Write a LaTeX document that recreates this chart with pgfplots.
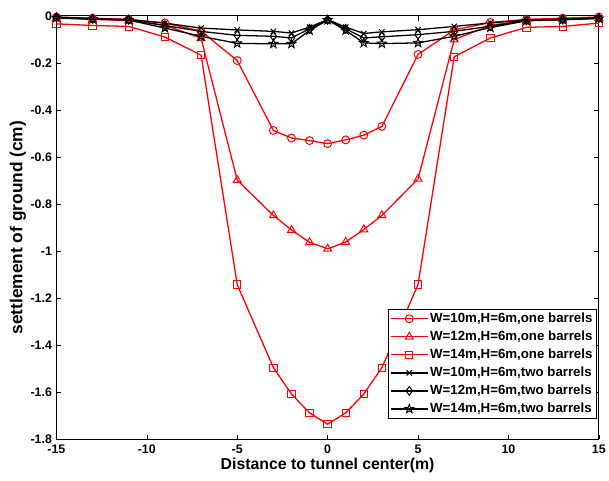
\documentclass[border=0pt]{standalone}
\usepackage{fontspec}
\setmainfont{Liberation Sans}
\usepackage{pgfplots}
\pgfplotsset{compat=1.18}
\pgfdeclareplotmark{pentagram}{%
  \pgfpathmoveto{\pgfpointpolar{90}{\pgfplotmarksize}}%
  \pgfpathlineto{\pgfpointpolar{126}{0.4\pgfplotmarksize}}%
  \pgfpathlineto{\pgfpointpolar{162}{\pgfplotmarksize}}%
  \pgfpathlineto{\pgfpointpolar{198}{0.4\pgfplotmarksize}}%
  \pgfpathlineto{\pgfpointpolar{234}{\pgfplotmarksize}}%
  \pgfpathlineto{\pgfpointpolar{270}{0.4\pgfplotmarksize}}%
  \pgfpathlineto{\pgfpointpolar{306}{\pgfplotmarksize}}%
  \pgfpathlineto{\pgfpointpolar{342}{0.4\pgfplotmarksize}}%
  \pgfpathlineto{\pgfpointpolar{18}{\pgfplotmarksize}}%
  \pgfpathlineto{\pgfpointpolar{54}{0.4\pgfplotmarksize}}%
  \pgfpathclose
  \pgfusepathqstroke
}
\begin{document}
\begin{tikzpicture}
\begin{axis}[
  scale only axis,
  width=548pt, height=428pt,
  xmin=-15, xmax=15, ymin=-1.8, ymax=0,
  xtick={-15,-10,...,15},
  ytick={-1.8,-1.6,...,0},
  yticklabels={-1.8,-1.6,-1.4,-1.2,-1,-0.8,-0.6,-0.4,-0.2,0},
  tick align=inside,
  major tick length=5pt,
  tick style={black, line width=0.6pt},
  axis line style={black, line width=0.8pt},
  /pgf/number format/assume math mode=true,
  tick label style={font=\fontsize{12.5}{14}\selectfont\bfseries},
  xticklabel style={yshift=-2pt},
  yticklabel style={xshift=-1pt},
  xlabel={Distance to tunnel center(m)},
  ylabel={settlement of ground (cm)},
  xlabel style={font=\fontsize{16}{18}\selectfont\bfseries, at={(rel axis cs:0.5,0)}, anchor=center, yshift=-26pt},
  ylabel style={font=\fontsize{17.5}{19}\selectfont\bfseries, at={(rel axis cs:0,0.5)}, anchor=center, yshift=39pt},
  legend cell align=left,
  legend style={at={(0.996,0.049)}, anchor=south east,
    font=\fontsize{13.4}{15}\selectfont\bfseries,
    draw=black, line width=0.6pt, inner sep=2pt, row sep=3pt},
  legend image code/.code={\draw[mark repeat=2,mark phase=2] plot coordinates {(0cm,0cm) (0.65cm,0cm) (1.3cm,0cm)};},
  every axis plot/.append style={line width=1.3pt},
  clip=false,
]
% red: one barrel
\addplot[red, mark=o, mark size=4pt, mark options={solid,line width=1pt}] coordinates {
(-15,-0.005) (-13,-0.01) (-11,-0.015) (-9,-0.03) (-7,-0.065) (-5,-0.19) (-3,-0.487) (-2,-0.519) (-1,-0.53) (0,-0.543) (1,-0.527) (2,-0.507) (3,-0.47) (5,-0.164) (7,-0.06) (9,-0.028) (11,-0.015) (13,-0.01) (15,-0.005)};
\addlegendentry{W=10m,H=6m,one barrels}
\addplot[red, mark=triangle, mark size=4.6pt, mark options={solid,line width=1pt}] coordinates {
(-15,-0.01) (-13,-0.015) (-11,-0.02) (-9,-0.04) (-7,-0.095) (-5,-0.698) (-3,-0.848) (-2,-0.91) (-1,-0.962) (0,-0.99) (1,-0.961) (2,-0.908) (3,-0.848) (5,-0.693) (7,-0.101) (9,-0.04) (11,-0.02) (13,-0.015) (15,-0.01)};
\addlegendentry{W=12m,H=6m,one barrels}
\addplot[red, mark=square, mark size=3.7pt, mark options={solid,line width=1pt}] coordinates {
(-15,-0.034) (-13,-0.041) (-11,-0.045) (-9,-0.09) (-7,-0.167) (-5,-1.142) (-3,-1.495) (-2,-1.607) (-1,-1.687) (0,-1.735) (1,-1.687) (2,-1.607) (3,-1.495) (5,-1.142) (7,-0.174) (9,-0.094) (11,-0.049) (13,-0.045) (15,-0.031)};
\addlegendentry{W=14m,H=6m,one barrels}
% black: two barrels
\addplot[black, mark=x, mark size=3.8pt, mark options={solid,line width=1pt}] coordinates {
(-15,-0.006) (-13,-0.012) (-11,-0.016) (-9,-0.031) (-7,-0.052) (-5,-0.06) (-3,-0.066) (-2,-0.073) (-1,-0.048) (0,-0.016) (1,-0.048) (2,-0.075) (3,-0.068) (5,-0.059) (7,-0.045) (9,-0.03) (11,-0.018) (13,-0.014) (15,-0.008)};
\addlegendentry{W=10m,H=6m,two barrels}
\addplot[black, mark=diamond, mark size=4.4pt, mark options={solid,line width=1pt}] coordinates {
(-15,-0.007) (-13,-0.013) (-11,-0.017) (-9,-0.041) (-7,-0.066) (-5,-0.083) (-3,-0.087) (-2,-0.094) (-1,-0.055) (0,-0.017) (1,-0.055) (2,-0.094) (3,-0.089) (5,-0.08) (7,-0.066) (9,-0.044) (11,-0.02) (13,-0.016) (15,-0.01)};
\addlegendentry{W=12m,H=6m,two barrels}
\addplot[black, mark=pentagram, mark size=4.6pt, mark options={solid,line width=1pt}] coordinates {
(-15,-0.008) (-13,-0.014) (-11,-0.018) (-9,-0.052) (-7,-0.087) (-5,-0.117) (-3,-0.119) (-2,-0.119) (-1,-0.062) (0,-0.018) (1,-0.062) (2,-0.115) (3,-0.118) (5,-0.115) (7,-0.087) (9,-0.05) (11,-0.021) (13,-0.017) (15,-0.011)};
\addlegendentry{W=14m,H=6m,two barrels}
\path (rel axis cs:0,0) ++(-57pt,-41pt);
\path (rel axis cs:1,1) ++(4pt,16pt);
\end{axis}
\end{tikzpicture}
\end{document}
